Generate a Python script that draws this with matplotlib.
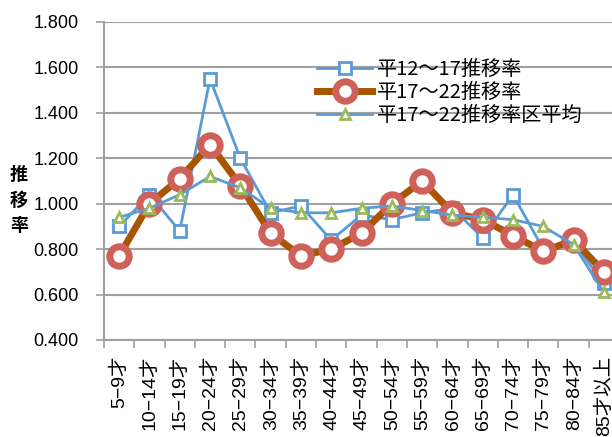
import numpy as np
import matplotlib.pyplot as plt

# Data
categories = ["5−9才", "10−14才", "15−19才", "20−24才", "25−29才", "30−34才",
              "35−39才", "40−44才", "45−49才", "50−54才", "55−59才", "60−64才",
              "65−69才", "70−74才", "75−79才", "80−84才", "85才以上"]
rate_h12_17 = [0.90, 1.04, 0.88, 1.55, 1.20, 0.96, 0.99, 0.84, 0.95, 0.93,
               0.96, 0.98, 0.85, 1.04, 0.80, 0.83, 0.65]
rate_h17_22 = [0.77, 1.00, 1.11, 1.26, 1.08, 0.87, 0.77, 0.80, 0.87, 1.00,
               1.10, 0.96, 0.93, 0.86, 0.79, 0.84, 0.70]
rate_h17_22_avg = [0.94, 0.98, 1.04, 1.12, 1.07, 0.98, 0.96, 0.96, 0.98, 0.99,
                   0.97, 0.95, 0.94, 0.93, 0.90, 0.82, 0.61]
labels = ["平12～17推移率", "平17～22推移率", "平17～22推移率区平均"]

cjk = ["Noto Sans CJK JP", "DejaVu Sans"]
latin = ["Liberation Sans", "Noto Sans CJK JP", "DejaVu Sans"]
plt.rcParams["font.family"] = latin

x = np.arange(len(categories))

fig = plt.figure(figsize=(6.12, 4.37), dpi=100)
ax = fig.add_axes([104 / 612, 97 / 437, 515 / 612, 318 / 437])

blue = "#5B9BD5"
ax.plot(x, rate_h12_17, color=blue, lw=2, marker="s", ms=8, mfc="white",
        mec=blue, mew=2, label=labels[0], zorder=3)
ax.plot(x, rate_h17_22, color="#A85400", lw=5, marker="o", ms=14, mfc="white",
        mec="#D0615A", mew=5, label=labels[1], zorder=4)
ax.plot(x, rate_h17_22_avg, color=blue, lw=2, marker="^", ms=7, mfc="white",
        mec="#9BBB59", mew=2, label=labels[2], zorder=5)

ax.set_ylim(0.4, 1.8)
ax.set_yticks(np.arange(0.4, 1.81, 0.2))
ax.set_yticklabels([f"{v:.3f}" for v in np.arange(0.4, 1.81, 0.2)], fontsize=13)
ax.set_xlim(-0.5, len(categories) - 0.5)
ax.set_xticks(x)
ax.set_xticklabels(categories, rotation=90, fontsize=14, family=latin)
ax.set_xticks(np.arange(-0.5, len(categories), 1), minor=True)
ax.tick_params(axis="x", which="major", length=0, pad=11)
ax.tick_params(axis="x", which="minor", length=6, color="#a0a0a0", width=1.2)
ax.tick_params(axis="y", length=6, color="#a0a0a0", width=1.2, pad=12)

ax.grid(axis="y", color="#a0a0a0", lw=1.5)
ax.set_axisbelow(True)
for s in ["top", "right"]:
    ax.spines[s].set_visible(False)
for s in ["left", "bottom"]:
    ax.spines[s].set_color("#a0a0a0")
    ax.spines[s].set_linewidth(1.5)

ax.set_ylabel("推\n移\n率", rotation=0, fontsize=13, family=cjk,
              fontweight="bold", linespacing=1.45, va="center")
ax.yaxis.set_label_coords(-0.165, 0.44)

leg = ax.legend(loc="upper left", bbox_to_anchor=(0.395, 0.915), frameon=False,
                prop={"family": cjk, "size": 14.5}, handlelength=2.7,
                handletextpad=0.25, labelspacing=0.1, borderpad=0)

fig.savefig("out.png", dpi=100)
